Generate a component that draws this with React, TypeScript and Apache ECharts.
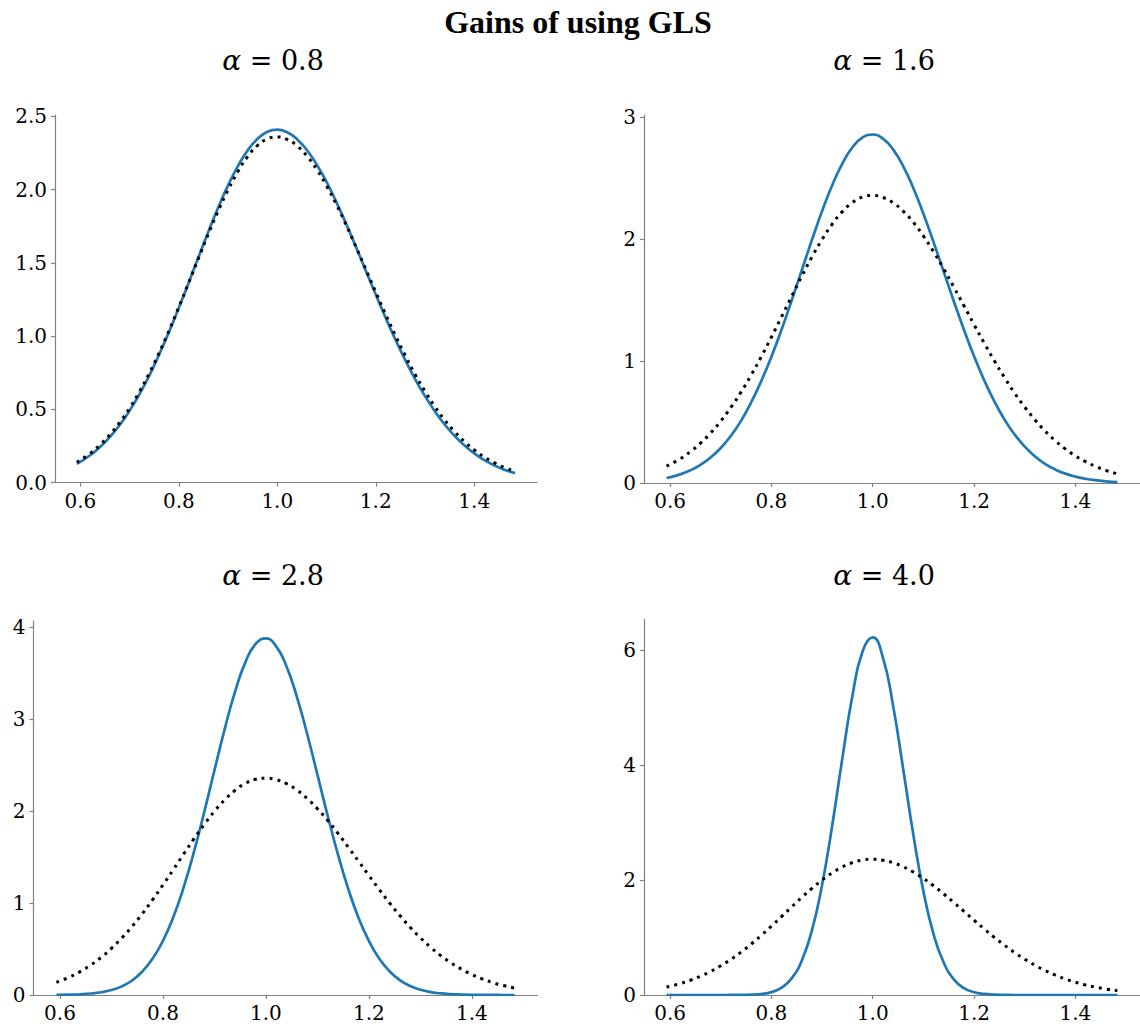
import React, { useEffect, useRef } from "react";
import * as echarts from "echarts";

// x grid of the density curves
const xs = [0.593, 0.62, 0.64, 0.66, 0.68, 0.70, 0.72, 0.74, 0.76, 0.78, 0.80, 0.82, 0.84, 0.86, 0.88, 0.90, 0.92, 0.94, 0.96, 0.98, 1.00, 1.02, 1.04, 1.06, 1.08, 1.10, 1.12, 1.14, 1.16, 1.18, 1.20, 1.22, 1.24, 1.26, 1.28, 1.30, 1.32, 1.34, 1.36, 1.38, 1.40, 1.42, 1.44, 1.46, 1.483];

// OLS density (dotted, same in every panel)
const olsDensity = [0.138, 0.199, 0.257, 0.327, 0.410, 0.508, 0.620, 0.746, 0.886, 1.037, 1.198, 1.364, 1.532, 1.698, 1.855, 1.999, 2.124, 2.227, 2.302, 2.347, 2.360, 2.343, 2.300, 2.231, 2.139, 2.027, 1.899, 1.758, 1.608, 1.455, 1.300, 1.149, 1.003, 0.866, 0.738, 0.623, 0.519, 0.427, 0.348, 0.280, 0.223, 0.175, 0.136, 0.104, 0.076];

// GLS densities (solid blue)
const glsAlpha08 = [0.127, 0.186, 0.242, 0.311, 0.393, 0.491, 0.603, 0.730, 0.874, 1.028, 1.193, 1.365, 1.540, 1.713, 1.878, 2.029, 2.161, 2.269, 2.348, 2.396, 2.410, 2.392, 2.345, 2.271, 2.172, 2.053, 1.915, 1.765, 1.607, 1.445, 1.284, 1.126, 0.976, 0.836, 0.706, 0.590, 0.487, 0.396, 0.319, 0.254, 0.199, 0.154, 0.118, 0.089, 0.064];
const glsAlpha16 = [0.041, 0.071, 0.104, 0.149, 0.209, 0.287, 0.387, 0.510, 0.661, 0.837, 1.037, 1.259, 1.499, 1.747, 1.995, 2.231, 2.444, 2.621, 2.755, 2.836, 2.860, 2.826, 2.738, 2.600, 2.421, 2.210, 1.977, 1.735, 1.492, 1.258, 1.040, 0.843, 0.670, 0.521, 0.398, 0.298, 0.219, 0.157, 0.111, 0.077, 0.052, 0.035, 0.023, 0.014, 0.008];
const glsAlpha28 = [0.002, 0.004, 0.008, 0.016, 0.030, 0.054, 0.094, 0.158, 0.256, 0.396, 0.590, 0.846, 1.169, 1.554, 1.988, 2.446, 2.897, 3.301, 3.620, 3.820, 3.880, 3.794, 3.576, 3.248, 2.843, 2.399, 1.950, 1.528, 1.153, 0.839, 0.588, 0.397, 0.259, 0.162, 0.098, 0.057, 0.032, 0.017, 0.009, 0.005, 0.002, 0.001, 0.001, 0.000, 0.000];
const glsAlpha40 = [0, 0, 0, 0, 0, 0, 0.0005, 0.002, 0.006, 0.018, 0.050, 0.127, 0.290, 0.600, 1.125, 1.913, 2.948, 4.115, 5.209, 5.977, 6.219, 5.872, 5.041, 3.935, 2.793, 1.802, 1.057, 0.564, 0.273, 0.120, 0.048, 0.018, 0.006, 0.002, 0, 0, 0, 0, 0, 0, 0, 0, 0, 0, 0];

const alphaLabels = ["0.8", "1.6", "2.8", "4.0"];
const glsSeries = [glsAlpha08, glsAlpha16, glsAlpha28, glsAlpha40];

// axis ticks / limits
const xTicks = [0.6, 0.8, 1.0, 1.2, 1.4];
const xMin = 0.5485;
const xMax = 1.5275;
const yTicksList = [
  [0, 0.5, 1.0, 1.5, 2.0, 2.5],
  [0, 1, 2, 3],
  [0, 1, 2, 3, 4],
  [0, 2, 4, 6],
];
const yMaxList = [2.51, 3.02, 4.07, 6.53];
const yDecimals = [1, 0, 0, 0];

// layout (pixels)
const grids = [
  { left: 55, top: 115, width: 482, height: 367.5 },
  { left: 644, top: 115, width: 503, height: 368 },
  { left: 33.5, top: 621, width: 504, height: 374 },
  { left: 644, top: 619.5, width: 503, height: 375.5 },
];
const titlePos = [
  [273, 60],
  [884, 60],
  [273, 575],
  [884, 575],
];

const SERIF = '"Liberation Serif", "Times New Roman", serif';
const TICKFONT = '"DejaVu Serif", serif';
const AXIS_COLOR = "#808080";
const BLUE = "#1f77b4";

function buildOption() {
  const xAxis: any[] = [];
  const yAxis: any[] = [];
  const series: any[] = [];
  const graphic: any[] = [
    {
      type: "text",
      x: 578,
      y: 22,
      style: {
        text: "Gains of using GLS",
        fontFamily: SERIF,
        fontWeight: "bold",
        fontSize: 32,
        fill: "#000",
        align: "center",
        verticalAlign: "middle",
      },
    },
  ];

  for (let i = 0; i < 4; i++) {
    xAxis.push({
      type: "value",
      gridIndex: i,
      min: xMin,
      max: xMax,
      position: "bottom",
      axisLine: { show: true, onZero: false, lineStyle: { color: AXIS_COLOR, width: 1.2 } },
      axisTick: { show: true, length: 4, customValues: xTicks, lineStyle: { color: AXIS_COLOR, width: 1.2 } },
      axisLabel: {
        customValues: xTicks,
        formatter: (v: number) => v.toFixed(1),
        fontFamily: TICKFONT,
        fontSize: 20,
        color: "#000",
        margin: 8,
      },
      splitLine: { show: false },
    });
    const yt = yTicksList[i];
    const dec = yDecimals[i];
    yAxis.push({
      type: "value",
      gridIndex: i,
      min: 0,
      max: yMaxList[i],
      axisLine: { show: true, onZero: false, lineStyle: { color: AXIS_COLOR, width: 1.2 } },
      axisTick: { show: true, length: 4, customValues: yt, lineStyle: { color: AXIS_COLOR, width: 1.2 } },
      axisLabel: {
        customValues: yt,
        formatter: (v: number) => v.toFixed(dec),
        fontFamily: TICKFONT,
        fontSize: 20,
        color: "#000",
        margin: 8,
      },
      splitLine: { show: false },
    });
    series.push({
      type: "line",
      xAxisIndex: i,
      yAxisIndex: i,
      data: xs.map((x, k) => [x, glsSeries[i][k]]),
      showSymbol: false,
      smooth: true,
      lineStyle: { color: BLUE, width: 2.7 },
      z: 2,
    });
    series.push({
      type: "line",
      xAxisIndex: i,
      yAxisIndex: i,
      data: xs.map((x, k) => [x, olsDensity[k]]),
      showSymbol: false,
      smooth: true,
      lineStyle: { color: "#000", width: 3, type: [3, 5] },
      z: 3,
    });
    graphic.push({
      type: "text",
      x: titlePos[i][0],
      y: titlePos[i][1],
      style: {
        text: "{a|α} = " + alphaLabels[i],
        fontFamily: TICKFONT,
        fontSize: 27,
        fill: "#000",
        align: "center",
        verticalAlign: "middle",
        rich: {
          a: { fontFamily: TICKFONT, fontStyle: "italic", fontSize: 28, fill: "#000" },
        },
      },
    });
  }

  return {
    animation: false,
    backgroundColor: "#fff",
    grid: grids.map((g) => ({ ...g, containLabel: false })),
    xAxis,
    yAxis,
    series,
    graphic,
  };
}

export default function App() {
  const ref = useRef<HTMLDivElement>(null);
  useEffect(() => {
    document.body.style.margin = "0";
    const chart = echarts.init(ref.current!, null, { renderer: "svg" });
    chart.setOption(buildOption() as any);
    return () => chart.dispose();
  }, []);
  return <div ref={ref} style={{ width: 1140, height: 1030 }} />;
}
